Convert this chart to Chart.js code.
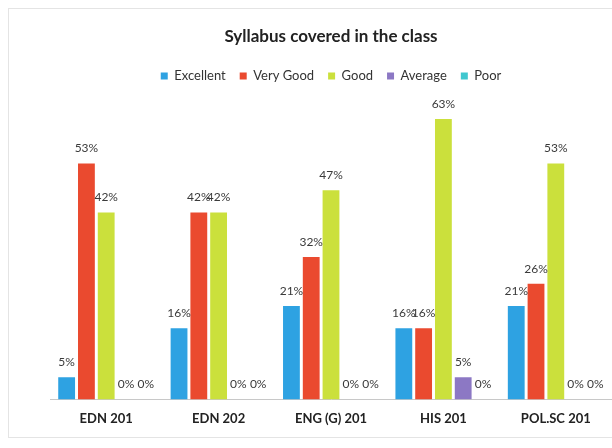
<!DOCTYPE html>
<html>
<head>
<meta charset="utf-8">
<script src="https://cdn.jsdelivr.net/npm/chart.js@4/dist/chart.umd.min.js"></script>
<style>
  html, body { margin: 0; padding: 0; background: #fff; }
  #wrap { position: relative; width: 612px; height: 448px; }
  #frame { position: absolute; left: 8px; top: 8px; width: 610px; height: 430px;
           border: 1px solid #e4e4e4; box-sizing: border-box; pointer-events: none; }
</style>
</head>
<body>
<div id="wrap">
  <canvas id="myChart" width="612" height="448"></canvas>
  <div id="frame"></div>
</div>
<script>
const courses = ['EDN 201', 'EDN 202', 'ENG (G) 201', 'HIS 201', 'POL.SC 201']
const excellent = [5, 16, 21, 16, 21]
const veryGood = [53, 42, 32, 16, 26]
const good = [42, 42, 47, 63, 53]
const average = [0, 0, 0, 5, 0]
const poor = [0, 0, 0, 0, 0]

const seriesNames = ['Excellent', 'Very Good', 'Good', 'Average', 'Poor']
const seriesColors = ['#2ea2e2', '#ea4a2f', '#cbe03c', '#8c78c4', '#3fc7cf']

// draws "53%" style labels above each bar
const valueLabels = {
  id: 'valueLabels',
  afterDatasetsDraw(chart) {
    const ctx = chart.ctx
    ctx.save()
    ctx.font = '12px Lato, "Liberation Sans", Arial, sans-serif'
    ctx.fillStyle = '#3a3a3a'
    ctx.textAlign = 'center'
    ctx.textBaseline = 'bottom'
    chart.data.datasets.forEach((ds, i) => {
      chart.getDatasetMeta(i).data.forEach((bar, j) => {
        ctx.fillText(ds.data[j] + '%', bar.x, bar.y - 9)
      })
    })
    ctx.restore()
  }
}

const data = {
  labels: courses,
  datasets: [excellent, veryGood, good, average, poor].map((vals, i) => ({
    label: seriesNames[i],
    data: vals,
    backgroundColor: seriesColors[i]
  }))
}

new Chart('myChart', {
  type: 'bar',
  data: data,
  plugins: [valueLabels],
  options: {
    responsive: false,
    animation: false,
    layout: { padding: { left: 50, right: 0, top: 26, bottom: 9 } },
    datasets: { bar: { categoryPercentage: 0.88, barPercentage: 0.85 } },
    plugins: {
      title: {
        display: true,
        text: 'Syllabus covered in the class',
        color: '#222',
        font: { family: 'Lato, "Liberation Sans", sans-serif', size: 17, weight: 'bold' },
        padding: { top: 0, bottom: 9 }
      },
      legend: {
        position: 'top',
        labels: {
          boxWidth: 7, boxHeight: 7, padding: 14, color: '#333',
          font: { family: 'Lato, "Liberation Sans", sans-serif', size: 13 }
        }
      },
      tooltip: { enabled: false }
    },
    scales: {
      x: {
        grid: { display: false, drawTicks: false },
        border: { color: '#c8c8c8', width: 1 },
        ticks: {
          color: '#222', padding: 12,
          font: { family: 'Lato, "Liberation Sans", sans-serif', size: 13, weight: 'bold' }
        }
      },
      y: {
        display: false,
        min: 0,
        max: 69
      }
    }
  }
})
</script>
</body>
</html>
